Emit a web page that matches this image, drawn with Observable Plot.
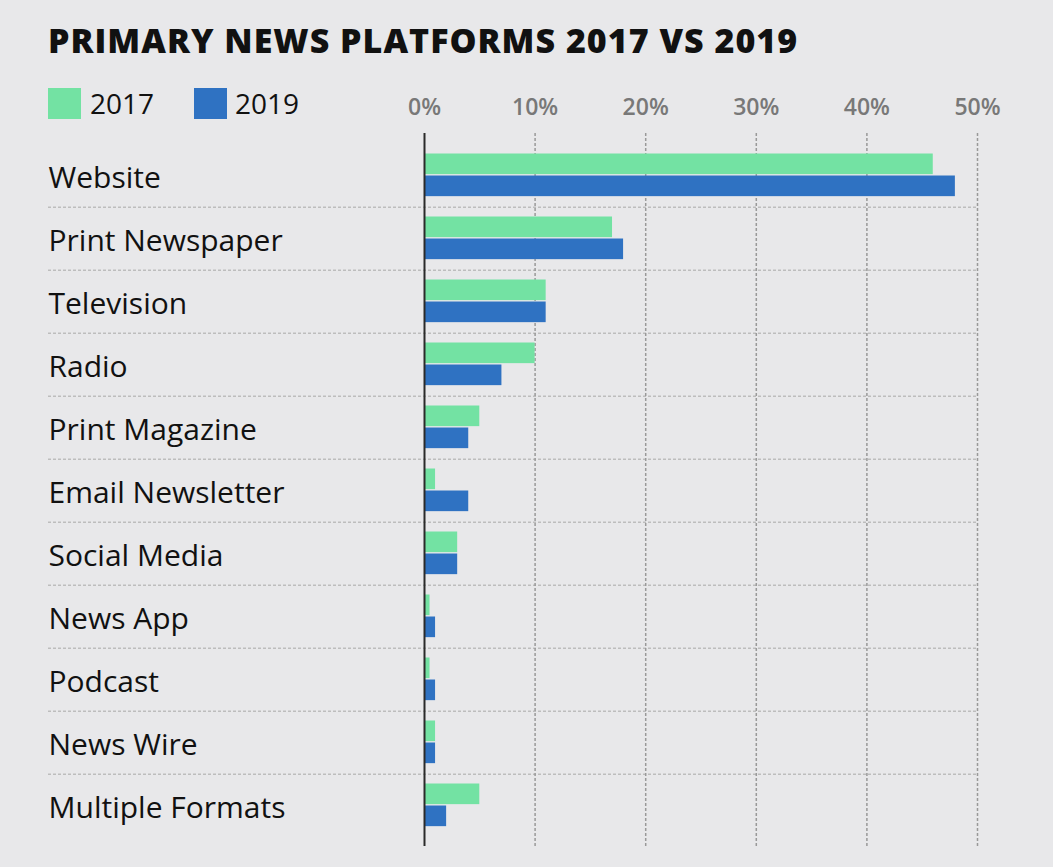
<!DOCTYPE html>
<html>
<head>
<meta charset="utf-8">
<script src="https://cdn.jsdelivr.net/npm/d3@7"></script>
<script src="https://cdn.jsdelivr.net/npm/@observablehq/plot@0.6"></script>
<style>
  html, body { margin: 0; padding: 0; background: #e8e8ea; }
  body { width: 1053px; height: 867px; position: relative; overflow: hidden; font-family: "Open Sans", sans-serif; }
  #title { position: absolute; left: 48px; top: 23px; font-size: 34px; line-height: 1; font-weight: 800; color: #111; white-space: nowrap; letter-spacing: 1px; }
  .sw { position: absolute; top: 88px; width: 33px; height: 31px; }
  .lt { position: absolute; top: 88.5px; font-size: 28px; line-height: 1; color: #111; }
  #chart { position: absolute; left: 0; top: 80px; }
</style>
</head>
<body>
<div id="title">PRIMARY NEWS PLATFORMS 2017 VS 2019</div>
<div class="sw" style="left:48px;background:#73e2a3"></div>
<div class="lt" style="left:90px">2017</div>
<div class="sw" style="left:194px;background:#2f72c2"></div>
<div class="lt" style="left:235px">2019</div>
<div id="chart"></div>
<script>
const categories = ["Website", "Print Newspaper", "Television", "Radio", "Print Magazine", "Email Newsletter", "Social Media", "News App", "Podcast", "News Wire", "Multiple Formats"];
const values2017 = [46, 17, 11, 10, 5, 1, 3, 0.5, 0.5, 1, 5];
const values2019 = [48, 18, 11, 7, 4, 4, 3, 1, 1, 1, 2];
const tickValues = [0, 10, 20, 30, 40, 50];
const years = ["2017", "2019"];
const colors = ["#73e2a3", "#2f72c2"];

const d17 = categories.map((c, i) => ({platform: c, value: values2017[i]}));
const d19 = categories.map((c, i) => ({platform: c, value: values2019[i]}));

const W = 1053, H = 787, mT = 62.4, mB = 27.7, mL = 424, mR = 76;
const step = (H - mT - mB) / categories.length;

const chart = Plot.plot({
  width: W, height: H,
  marginTop: mT, marginBottom: mB, marginLeft: mL, marginRight: mR,
  style: {background: "transparent", fontFamily: "Open Sans, sans-serif"},
  x: {domain: [0, 50], axis: null},
  y: {domain: categories, padding: 0, axis: null},
  marks: [
    Plot.ruleY(categories.slice(1), {y: d => d, dy: -step / 2, insetLeft: -(mL - 48), stroke: "#bdbdbd", strokeWidth: 1.5, strokeDasharray: "3,2"}),
    Plot.ruleX(tickValues.slice(1), {x: d => d, insetTop: -9.4, insetBottom: -6.7, stroke: "#999999", strokeWidth: 1.5, strokeDasharray: "3,2"}),
    Plot.barX(d17, {x: "value", y: "platform", fill: colors[0], insetTop: 9.5, insetBottom: step - 30.5}),
    Plot.barX(d19, {x: "value", y: "platform", fill: colors[1], insetTop: 31.5, insetBottom: step - 52.5}),
    Plot.ruleX([0], {insetTop: -9.4, insetBottom: -6.7, stroke: "#2a2a2a", strokeWidth: 2}),
    Plot.text(tickValues, {x: d => d, text: d => d + "%", frameAnchor: "top", lineAnchor: "middle", dy: -35.5, fontSize: 23, fontWeight: 600, fill: "#787878"}),
    Plot.text(categories, {y: d => d, text: d => d, frameAnchor: "left", textAnchor: "start", lineAnchor: "middle", dx: -(mL - 48), dy: 2, fontSize: 30, fill: "#111"})
  ]
});
document.getElementById("chart").appendChild(chart);
</script>
</body>
</html>
